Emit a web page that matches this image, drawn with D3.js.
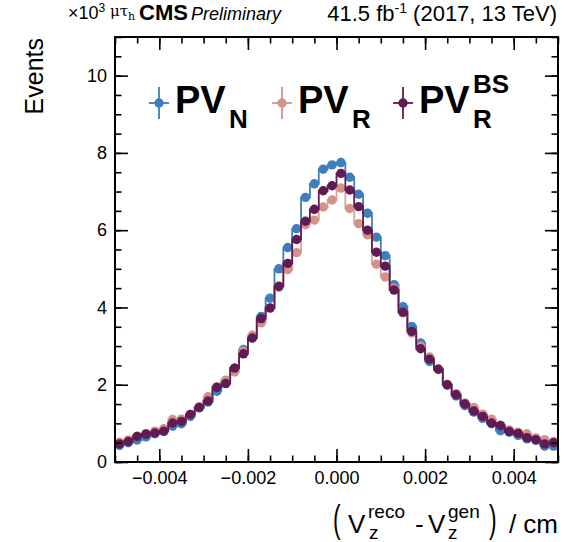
<!DOCTYPE html>
<html>
<head>
<meta charset="utf-8">
<script src="https://cdn.jsdelivr.net/npm/d3@7"></script>
<style>
  body { margin: 0; background: #fff; }
  svg { display: block; font-family: "Liberation Sans", Arial, Helvetica, sans-serif; }
</style>
</head>
<body>
<div id="app"></div>
<script>
// bins: 50 bins of 0.0002 cm between -0.005 and 0.005
const binEdges = d3.range(51).map(i => -0.005 + i * 0.0002);

// events per bin (x10^3)
const pvN = [0.43, 0.50, 0.57, 0.65, 0.73, 0.79, 0.93, 0.99, 1.18, 1.40,
    1.55, 1.83, 2.10, 2.43, 2.91, 3.21, 3.77, 4.24, 5.00, 5.55,
    6.04, 6.85, 7.20, 7.58, 7.69, 7.75, 7.37, 6.93, 6.44, 5.82,
    5.34, 4.59, 4.02, 3.51, 3.08, 2.60, 2.40, 1.99, 1.71, 1.46,
    1.29, 1.13, 0.99, 0.81, 0.77, 0.69, 0.60, 0.56, 0.41, 0.41];
const pvR = [0.51, 0.57, 0.67, 0.74, 0.80, 0.86, 1.10, 1.11, 1.23, 1.43,
    1.69, 1.95, 2.12, 2.33, 2.87, 3.28, 3.60, 3.98, 4.52, 4.98,
    5.42, 6.14, 6.26, 6.60, 6.78, 7.09, 6.56, 6.17, 5.88, 5.12,
    4.79, 4.50, 3.86, 3.34, 3.00, 2.72, 2.40, 2.01, 1.77, 1.53,
    1.41, 1.24, 1.11, 0.96, 0.83, 0.77, 0.73, 0.62, 0.58, 0.53];
const pvRBS = [0.47, 0.53, 0.66, 0.72, 0.75, 0.80, 1.01, 1.05, 1.23, 1.41,
    1.58, 1.93, 2.03, 2.43, 2.80, 3.21, 3.71, 3.99, 4.55, 5.14,
    5.76, 6.23, 6.54, 7.02, 7.15, 7.47, 7.04, 6.61, 6.00, 5.43,
    5.07, 4.45, 3.88, 3.38, 2.93, 2.66, 2.40, 2.00, 1.74, 1.50,
    1.32, 1.18, 1.01, 0.94, 0.79, 0.74, 0.63, 0.58, 0.47, 0.50];

const xMajor = [-0.004, -0.002, 0, 0.002, 0.004];
const xMinor = d3.range(21).map(i => -0.005 + i * 0.0005);
const yMajor = [0, 2, 4, 6, 8, 10];
const yMinor = d3.range(23).map(i => i * 0.5);

const series = [
    { name: 'N', sup: '', values: pvN, color: '#3e7dbe', lineOpacity: 1 },
    { name: 'R', sup: '', values: pvR, color: '#d4928a', lineOpacity: 0.85 },
    { name: 'R', sup: 'BS', values: pvRBS, color: '#601b54', lineOpacity: 1 },
];

const width = 577;
const height = 542;
const frame = { left: 115, right: 558, top: 37, bottom: 462 };

const x = d3.scaleLinear().domain([-0.005, 0.005]).range([frame.left, frame.right]);
const y = d3.scaleLinear().domain([0, 11]).range([frame.bottom, frame.top]);

const svg = d3.select('#app').append('svg')
    .attr('width', width)
    .attr('height', height);

svg.append('defs').append('clipPath').attr('id', 'clip')
  .append('rect')
    .attr('x', frame.left).attr('y', frame.top)
    .attr('width', frame.right - frame.left)
    .attr('height', frame.bottom - frame.top);

// histograms
const plot = svg.append('g').attr('clip-path', 'url(#clip)');
const step = d3.line().curve(d3.curveStepAfter).x(d => x(d[0])).y(d => y(d[1]));

series.forEach(s => {
    const pts = s.values.map((v, i) => [binEdges[i], v]);
    pts.push([binEdges[binEdges.length - 1], s.values[s.values.length - 1]]);

    plot.append('path')
        .attr('d', step(pts))
        .attr('fill', 'none')
        .attr('stroke', s.color)
        .attr('stroke-opacity', s.lineOpacity)
        .attr('stroke-width', 1.8);

    plot.append('g')
      .selectAll('circle')
      .data(s.values)
      .enter().append('circle')
        .attr('cx', (d, i) => x((binEdges[i] + binEdges[i + 1]) / 2))
        .attr('cy', d => y(d))
        .attr('r', 4.7)
        .attr('fill', s.color);
});

// axes, ROOT style ticks inside the frame
const tickStyle = g => {
    g.select('.domain').remove();
    g.selectAll('line').attr('stroke', '#000').attr('stroke-width', 1.6);
    g.selectAll('text').attr('fill', '#000').style('font-size', '18px');
};

svg.append('g').attr('transform', `translate(0,${frame.bottom})`)
    .call(d3.axisBottom(x).tickValues(xMinor).tickSize(-6.5).tickFormat(''))
    .call(tickStyle);
svg.append('g').attr('transform', `translate(0,${frame.bottom})`)
    .call(d3.axisBottom(x).tickValues(xMajor).tickSize(-13).tickPadding(9).tickFormat(d3.format('.3f')))
    .call(tickStyle);
svg.append('g').attr('transform', `translate(0,${frame.top})`)
    .call(d3.axisTop(x).tickValues(xMinor).tickSize(-6.5).tickFormat(''))
    .call(tickStyle);
svg.append('g').attr('transform', `translate(0,${frame.top})`)
    .call(d3.axisTop(x).tickValues(xMajor).tickSize(-13).tickFormat(''))
    .call(tickStyle);

svg.append('g').attr('transform', `translate(${frame.left},0)`)
    .call(d3.axisLeft(y).tickValues(yMinor).tickSize(-6.5).tickFormat(''))
    .call(tickStyle);
svg.append('g').attr('transform', `translate(${frame.left},0)`)
    .call(d3.axisLeft(y).tickValues(yMajor).tickSize(-13).tickPadding(8).tickFormat(d3.format('d')))
    .call(tickStyle);
svg.append('g').attr('transform', `translate(${frame.right},0)`)
    .call(d3.axisRight(y).tickValues(yMinor).tickSize(-6.5).tickFormat(''))
    .call(tickStyle);
svg.append('g').attr('transform', `translate(${frame.right},0)`)
    .call(d3.axisRight(y).tickValues(yMajor).tickSize(-13).tickFormat(''))
    .call(tickStyle);

svg.append('rect')
    .attr('x', frame.left).attr('y', frame.top)
    .attr('width', frame.right - frame.left)
    .attr('height', frame.bottom - frame.top)
    .attr('fill', 'none')
    .attr('stroke', '#000')
    .attr('stroke-width', 2);

// legend
const legendX = [159, 282, 403];
const legendY = 103;
series.forEach((s, i) => {
    const g = svg.append('g').attr('transform', `translate(${legendX[i]},${legendY})`);
    g.append('line').attr('x1', 0).attr('x2', 0).attr('y1', -16).attr('y2', 16)
        .attr('stroke', s.color).attr('stroke-width', 1.8);
    g.append('line').attr('x1', -10).attr('x2', 10).attr('y1', 0).attr('y2', 0)
        .attr('stroke', s.color).attr('stroke-width', 1.8);
    g.append('circle').attr('r', 4.7).attr('fill', s.color);

    g.append('text').attr('x', 16).attr('y', 10)
        .style('font-size', '38px').style('font-weight', 'bold')
        .text('PV');
    g.append('text').attr('x', 70).attr('y', 25)
        .style('font-size', '26px').style('font-weight', 'bold')
        .text(s.name);
    if (s.sup) {
        g.append('text').attr('x', 70).attr('y', -10)
            .style('font-size', '26px').style('font-weight', 'bold')
            .text(s.sup);
    }
});

// header
const header = svg.append('g');
const t1 = header.append('text').attr('x', 68).attr('y', 19).style('font-size', '18px');
t1.append('tspan').text('×10');
t1.append('tspan').attr('dy', -7).style('font-size', '12px').text('3');

const t2 = header.append('text').attr('x', 110).attr('y', 16)
    .style('font-family', '"DejaVu Serif", serif').style('font-size', '15px');
t2.append('tspan').text('μτ');
t2.append('tspan').attr('dy', 4).style('font-size', '11px').text('h');

header.append('text').attr('x', 139).attr('y', 20)
    .style('font-size', '22px').style('font-weight', 'bold').text('CMS');
header.append('text').attr('x', 191).attr('y', 20)
    .style('font-size', '18px').style('font-style', 'italic').text('Preliminary');

const t3 = header.append('text').attr('x', 557).attr('y', 21)
    .attr('text-anchor', 'end').style('font-size', '22px');
t3.append('tspan').text('41.5 fb');
t3.append('tspan').attr('dy', -8).style('font-size', '14px').text('-1');
t3.append('tspan').attr('dy', 8).text(' (2017, 13 TeV)');

// axis titles
svg.append('text')
    .attr('transform', 'translate(43,38) rotate(-90)')
    .attr('text-anchor', 'end')
    .style('font-size', '25px')
    .text('Events');

const xt = svg.append('g').style('font-size', '26px');
xt.append('text').attr('transform', 'translate(333,532) scale(0.6,1)').style('font-size', '38px').text('(');
xt.append('text').attr('x', 348).attr('y', 533).text('V');
xt.append('text').attr('x', 368).attr('y', 518).style('font-size', '19px').text('reco');
xt.append('text').attr('x', 369).attr('y', 539).style('font-size', '19px').text('z');
xt.append('text').attr('x', 415).attr('y', 533).text('-');
xt.append('text').attr('x', 428).attr('y', 533).text('V');
xt.append('text').attr('x', 448).attr('y', 518).style('font-size', '19px').text('gen');
xt.append('text').attr('x', 448).attr('y', 539).style('font-size', '19px').text('z');
xt.append('text').attr('transform', 'translate(489,532) scale(0.6,1)').style('font-size', '38px').text(')');
xt.append('text').attr('x', 558).attr('y', 533).attr('text-anchor', 'end').text('/ cm');
</script>
</body>
</html>
